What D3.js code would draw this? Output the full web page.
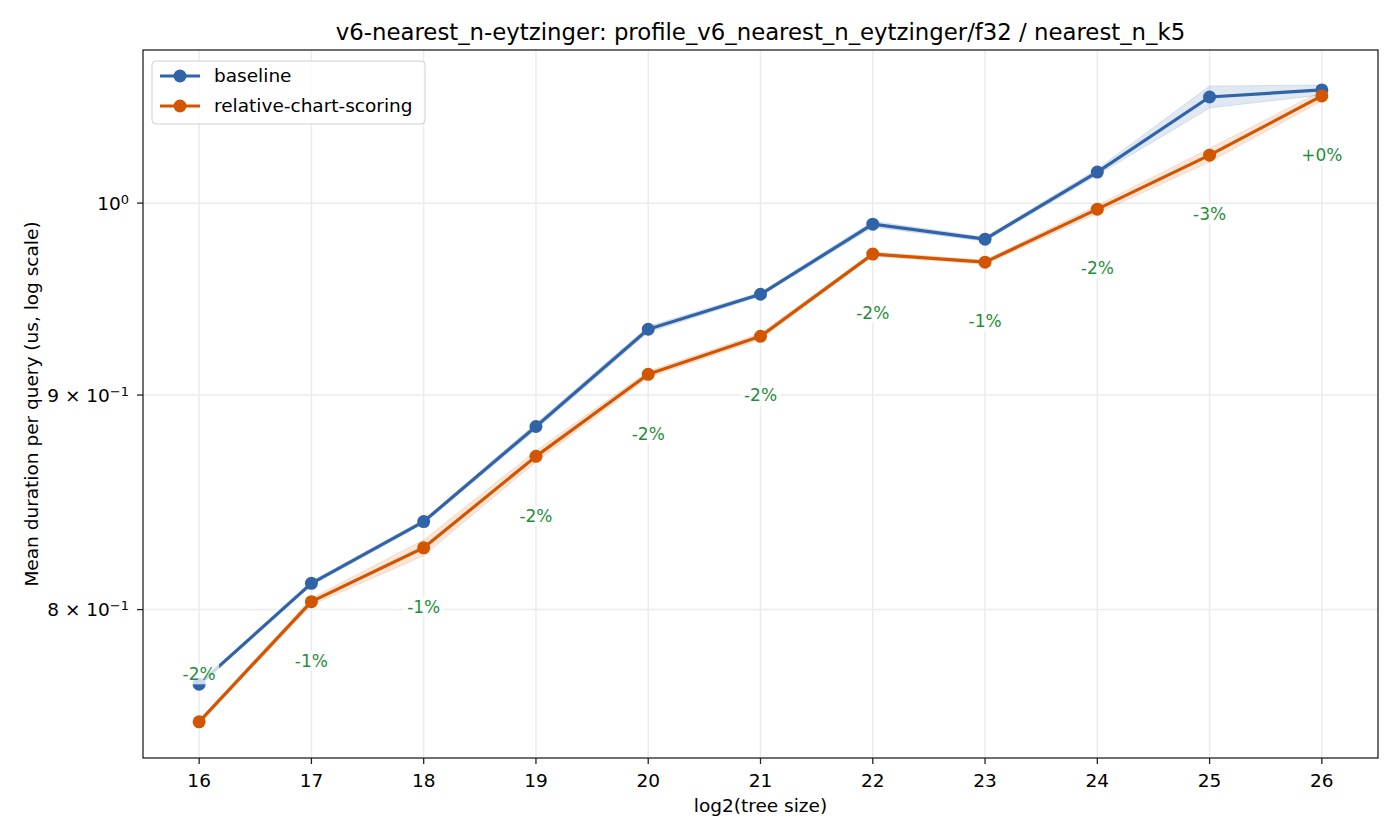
<!DOCTYPE html>
<html>
<meta charset="utf-8">
<head>
<script src="https://cdn.jsdelivr.net/npm/d3@7"></script>
<style>
  body { margin: 0; background: #fff; }
  text { font-family: "DejaVu Sans", sans-serif; fill: #000; }
</style>
</head>
<body>
<div id="chart"></div>
<script>

// data
var sizes = [16, 17, 18, 19, 20, 21, 22, 23, 24, 25, 26];
var baseline   = [0.7679, 0.8116, 0.8396, 0.8846, 0.9331, 0.9512, 0.9885, 0.9804, 1.0172, 1.0600, 1.0641];
var baselineLo = [0.7671, 0.8107, 0.8387, 0.8831, 0.9316, 0.9502, 0.9869, 0.9793, 1.0155, 1.0536, 1.0612];
var baselineHi = [0.7687, 0.8125, 0.8405, 0.8861, 0.9346, 0.9522, 0.9901, 0.9815, 1.0189, 1.0664, 1.0670];
var relative   = [0.7522, 0.8035, 0.8276, 0.8702, 0.9103, 0.9295, 0.9724, 0.9681, 0.9967, 1.0267, 1.0606];
var relativeLo = [0.7514, 0.8020, 0.8240, 0.8675, 0.9088, 0.9280, 0.9713, 0.9670, 0.9945, 1.0228, 1.0577];
var relativeHi = [0.7530, 0.8050, 0.8312, 0.8729, 0.9118, 0.9310, 0.9735, 0.9692, 0.9989, 1.0306, 1.0635];
var pctLabels = ["-2%", "-1%", "-1%", "-2%", "-2%", "-2%", "-2%", "-1%", "-2%", "-3%", "+0%"];
var yTicks = [1.0, 0.9, 0.8];
var yTickLabels = [["10", "0"], ["9 \u00d7 10", "\u22121"], ["8 \u00d7 10", "\u22121"]];

var W = 1400, H = 840;
var m = {left: 143, right: 22, top: 50, bottom: 82};
var iw = W - m.left - m.right, ih = H - m.top - m.bottom;
var fs = "18.5px";

var svg = d3.select("#chart").append("svg")
    .attr("width", W).attr("height", H);

var x = d3.scaleLinear().domain([15.5, 26.5]).range([0, iw]);
var y = d3.scaleLog().domain([0.7374, 1.0877]).range([ih, 0]);

var g = svg.append("g").attr("transform", "translate(" + m.left + "," + m.top + ")");

// grid
g.selectAll(".gx").data(sizes).enter().append("line")
    .attr("x1", function(d){ return x(d); }).attr("x2", function(d){ return x(d); })
    .attr("y1", 0).attr("y2", ih)
    .attr("stroke", "#ebebeb").attr("stroke-width", 1.5);
g.selectAll(".gy").data(yTicks).enter().append("line")
    .attr("x1", 0).attr("x2", iw)
    .attr("y1", function(d){ return y(d); }).attr("y2", function(d){ return y(d); })
    .attr("stroke", "#ebebeb").attr("stroke-width", 1.5);

var series = [
    {name: "baseline", vals: baseline, lo: baselineLo, hi: baselineHi, color: "#3063a8"},
    {name: "relative-chart-scoring", vals: relative, lo: relativeLo, hi: relativeHi, color: "#d45500"}
];

var area = d3.area()
    .x(function(d){ return x(d.x); })
    .y0(function(d){ return y(d.lo); })
    .y1(function(d){ return y(d.hi); });
var line = d3.line()
    .x(function(d){ return x(d.x); })
    .y(function(d){ return y(d.v); });

series.forEach(function(s){
    var pts = sizes.map(function(sz, i){
        return {x: sz, v: s.vals[i], lo: s.lo[i], hi: s.hi[i]};
    });
    g.append("path").datum(pts).attr("d", area)
        .attr("fill", s.color).attr("fill-opacity", 0.15)
        .attr("stroke", s.color).attr("stroke-opacity", 0.15).attr("stroke-width", 1);
    g.append("path").datum(pts).attr("d", line)
        .attr("fill", "none").attr("stroke", s.color).attr("stroke-width", 3.2)
        .attr("stroke-linejoin", "round");
    g.selectAll(null).data(pts).enter().append("circle")
        .attr("cx", function(d){ return x(d.x); })
        .attr("cy", function(d){ return y(d.v); })
        .attr("r", 6.5).attr("fill", s.color);
});

// percentage labels below the lower of the two points
var yFloor = y.domain()[0] * 1.047;
var labs = g.selectAll(".pct").data(sizes).enter().append("g")
    .attr("transform", function(d, i){
        var ly = Math.max(Math.min(baseline[i], relative[i]) * 0.968, yFloor);
        return "translate(" + x(d) + "," + y(ly) + ")";
    });
labs.append("rect")
    .attr("x", -20).attr("y", -10).attr("width", 40).attr("height", 20)
    .attr("fill", "#fff").attr("fill-opacity", 0.75);
labs.append("text")
    .attr("text-anchor", "middle").attr("dy", "0.35em")
    .style("font-size", "17px").style("fill", "#1f8f3a")
    .text(function(d, i){ return pctLabels[i]; });

// frame
g.append("rect").attr("width", iw).attr("height", ih)
    .attr("fill", "none").attr("stroke", "#222").attr("stroke-width", 1.3);

// x axis
var xt = g.selectAll(".xt").data(sizes).enter().append("g")
    .attr("transform", function(d){ return "translate(" + x(d) + "," + ih + ")"; });
xt.append("line").attr("y2", 6).attr("stroke", "#222").attr("stroke-width", 1.3);
xt.append("text").attr("y", 29).attr("text-anchor", "middle")
    .style("font-size", fs).text(function(d){ return d; });

// y axis
var yt = g.selectAll(".yt").data(yTicks).enter().append("g")
    .attr("transform", function(d){ return "translate(0," + y(d) + ")"; });
yt.append("line").attr("x2", -6).attr("stroke", "#222").attr("stroke-width", 1.3);
var ytx = yt.append("text").attr("x", -14).attr("dy", "0.36em").attr("text-anchor", "end")
    .style("font-size", fs);
ytx.append("tspan").text(function(d, i){ return yTickLabels[i][0]; });
ytx.append("tspan").attr("dy", "-0.45em").style("font-size", "13px")
    .text(function(d, i){ return yTickLabels[i][1]; });

// titles
svg.append("text").attr("x", m.left + iw / 2).attr("y", 40).attr("text-anchor", "middle")
    .style("font-size", "22.8px")
    .text("v6-nearest_n-eytzinger: profile_v6_nearest_n_eytzinger/f32 / nearest_n_k5");
svg.append("text").attr("x", m.left + iw / 2).attr("y", 812).attr("text-anchor", "middle")
    .style("font-size", fs).text("log2(tree size)");
svg.append("text")
    .attr("transform", "translate(38," + (m.top + ih / 2) + ") rotate(-90)")
    .attr("text-anchor", "middle").style("font-size", fs)
    .text("Mean duration per query (us, log scale)");

// legend
var lg = g.append("g").attr("transform", "translate(9,11)");
lg.append("rect").attr("width", 273).attr("height", 63).attr("rx", 4)
    .attr("fill", "#fff").attr("fill-opacity", 0.8)
    .attr("stroke", "#d0d0d0").attr("stroke-width", 1);
series.forEach(function(s, i){
    var row = lg.append("g").attr("transform", "translate(0," + (15 + i * 30) + ")");
    row.append("line").attr("x1", 8).attr("x2", 48)
        .attr("stroke", s.color).attr("stroke-width", 3.2);
    row.append("circle").attr("cx", 28).attr("r", 6.5).attr("fill", s.color);
    row.append("text").attr("x", 62).attr("dy", "0.35em")
        .style("font-size", fs).text(s.name);
});

</script>
</body>
</html>
